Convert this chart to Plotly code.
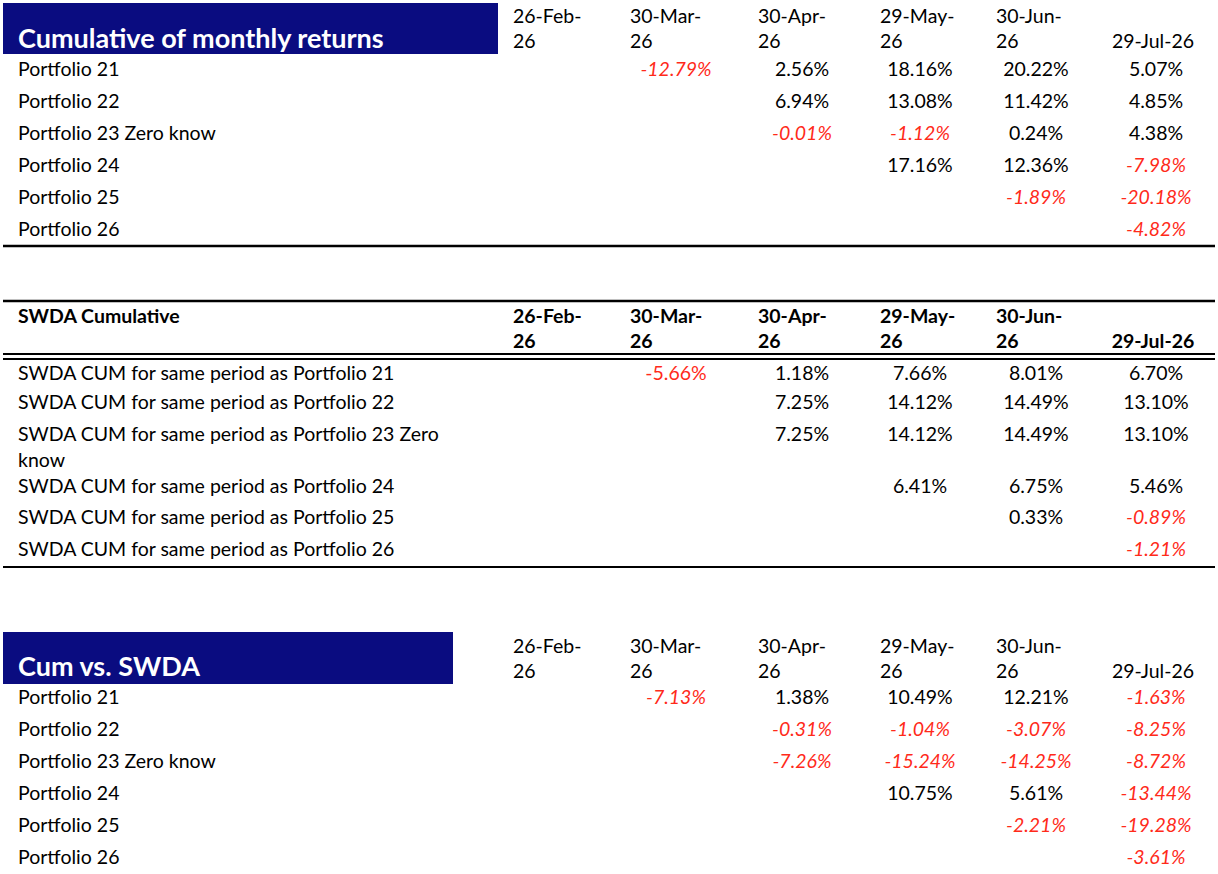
import plotly.graph_objects as go

# -------- data -------- #
dates = ["26-Feb-26", "30-Mar-26", "30-Apr-26", "29-May-26", "30-Jun-26", "29-Jul-26"]
portfolios = ["Portfolio 21", "Portfolio 22", "Portfolio 23 Zero know",
              "Portfolio 24", "Portfolio 25", "Portfolio 26"]
swda_labels = ["SWDA CUM for same period as " + p for p in portfolios]

# cumulative of monthly returns [%], one list per date column
cum_feb = [None, None, None, None, None, None]
cum_mar = [-12.79, None, None, None, None, None]
cum_apr = [2.56, 6.94, -0.01, None, None, None]
cum_may = [18.16, 13.08, -1.12, 17.16, None, None]
cum_jun = [20.22, 11.42, 0.24, 12.36, -1.89, None]
cum_jul = [5.07, 4.85, 4.38, -7.98, -20.18, -4.82]

# SWDA cumulative for same period [%]
swda_feb = [None, None, None, None, None, None]
swda_mar = [-5.66, None, None, None, None, None]
swda_apr = [1.18, 7.25, 7.25, None, None, None]
swda_may = [7.66, 14.12, 14.12, 6.41, None, None]
swda_jun = [8.01, 14.49, 14.49, 6.75, 0.33, None]
swda_jul = [6.70, 13.10, 13.10, 5.46, -0.89, -1.21]

# cum vs. SWDA [%]
vs_feb = [None, None, None, None, None, None]
vs_mar = [-7.13, None, None, None, None, None]
vs_apr = [1.38, -0.31, -7.26, None, None, None]
vs_may = [10.49, -1.04, -15.24, 10.75, None, None]
vs_jun = [12.21, -3.07, -14.25, 5.61, -2.21, None]
vs_jul = [-1.63, -8.25, -8.72, -13.44, -19.28, -3.61]

# -------- layout -------- #
W, H = 1218, 874
FONT = "Lato"
NAVY = "#0a0c80"
RED = "#ff2a1a"
BODY = 19.5
TITLE = 27
TEXT_DY = 2  # plotly's "middle" sits a touch high compared to excel rows
LABEL_X = 18
COL_LEFT = [513, 630, 758, 880, 996, 1113]
COL_CENTER = [545, 676, 802, 920, 1036, 1156]

fig = go.Figure()


def add_text(xs, ys, texts, pos, size=BODY, color="black", bold=False, dy=TEXT_DY):
    if bold:
        texts = ["<b>%s</b>" % t for t in texts]
    fig.add_trace(go.Scatter(
        x=xs, y=[y + dy for y in ys], text=texts, mode="text", textposition=pos,
        textfont=dict(family=FONT, size=size, color=color),
        hoverinfo="skip", showlegend=False, cliponaxis=False))


def hline(y, width=2):
    fig.add_shape(type="line", xref="x", yref="y", x0=3, x1=1215, y0=y, y1=y,
                  line=dict(color="black", width=width))


def header_dates(y1, y2, bold=False):
    xs, ys, ts = [], [], []
    for i, d in enumerate(dates):
        if i < len(dates) - 1:
            head, tail = d.rsplit("-", 1)
            xs += [COL_LEFT[i], COL_LEFT[i]]
            ys += [y1, y2]
            ts += [head + "-", tail]
    add_text(xs, ys, ts, "middle right", bold=bold)
    add_text([COL_CENTER[-1] - 3], [y2], [dates[-1]], "middle center", bold=bold)


def values_block(columns, row_y, upright=()):
    xs, ys, ts, cs = [], [], [], []
    for c, col in enumerate(columns):
        for r, v in enumerate(col):
            if v is None:
                continue
            t = "%.2f%%" % v
            if v < 0 and (r, c) not in upright:
                t = "<i>%s</i>" % t
            xs.append(COL_CENTER[c])
            ys.append(row_y[r])
            ts.append(t)
            cs.append(RED if v < 0 else "black")
    add_text(xs, ys, ts, "middle center", color=cs)


def wrap(label, limit=46):
    words, lines, cur = label.split(" "), [], ""
    for w in words:
        if cur and len(cur) + 1 + len(w) > limit:
            lines.append(cur)
            cur = w
        else:
            cur = (cur + " " + w).strip()
    lines.append(cur)
    return lines


# -------- section 1: cumulative of monthly returns -------- #
rows1 = [69 + 32 * i for i in range(len(portfolios))]
fig.add_shape(type="rect", xref="x", yref="y", x0=3, x1=498, y0=3, y1=54,
              fillcolor=NAVY, line=dict(width=0), layer="below")
add_text([LABEL_X], [38], ["Cumulative of monthly returns"], "middle right",
         size=TITLE, color="white", bold=True, dy=3)
header_dates(16, 41)
add_text([LABEL_X] * len(portfolios), rows1, portfolios, "middle right")
values_block([cum_feb, cum_mar, cum_apr, cum_may, cum_jun, cum_jul], rows1)
hline(246, 2.5)

# -------- section 2: SWDA cumulative -------- #
hline(301, 2.5)
add_text([LABEL_X], [316], ["SWDA Cumulative"], "middle right", bold=True)
header_dates(316, 341, bold=True)
hline(354, 2)
hline(359, 2)
row_gap2 = [29, 32, 52, 31, 32]
rows2 = [373]
for g in row_gap2:
    rows2.append(rows2[-1] + g)
lx, ly, lt = [], [], []
for r, lab in enumerate(swda_labels):
    for k, line in enumerate(wrap(lab)):
        lx.append(LABEL_X)
        ly.append(rows2[r] + 26 * k)
        lt.append(line)
add_text(lx, ly, lt, "middle right")
values_block([swda_feb, swda_mar, swda_apr, swda_may, swda_jun, swda_jul], rows2,
             upright={(0, 1)})
hline(567, 2)

# -------- section 3: cum vs. SWDA -------- #
rows3 = [697 + 32 * i for i in range(len(portfolios))]
fig.add_shape(type="rect", xref="x", yref="y", x0=3, x1=453, y0=632, y1=684,
              fillcolor=NAVY, line=dict(width=0), layer="below")
add_text([LABEL_X], [666], ["Cum vs. SWDA"], "middle right",
         size=TITLE, color="white", bold=True, dy=3)
header_dates(646, 671)
add_text([LABEL_X] * len(portfolios), rows3, portfolios, "middle right")
values_block([vs_feb, vs_mar, vs_apr, vs_may, vs_jun, vs_jul], rows3)

fig.update_layout(
    width=W, height=H,
    margin=dict(l=0, r=0, t=0, b=0),
    paper_bgcolor="white", plot_bgcolor="white",
    xaxis=dict(range=[0, W], visible=False, fixedrange=True),
    yaxis=dict(range=[H, 0], visible=False, fixedrange=True),
    showlegend=False,
)

# page body has a default 8px margin; drop it so the figure fills the window
fig.write_html("out.html", config={"displayModeBar": False},
               post_script="document.body.style.margin = '0';")
